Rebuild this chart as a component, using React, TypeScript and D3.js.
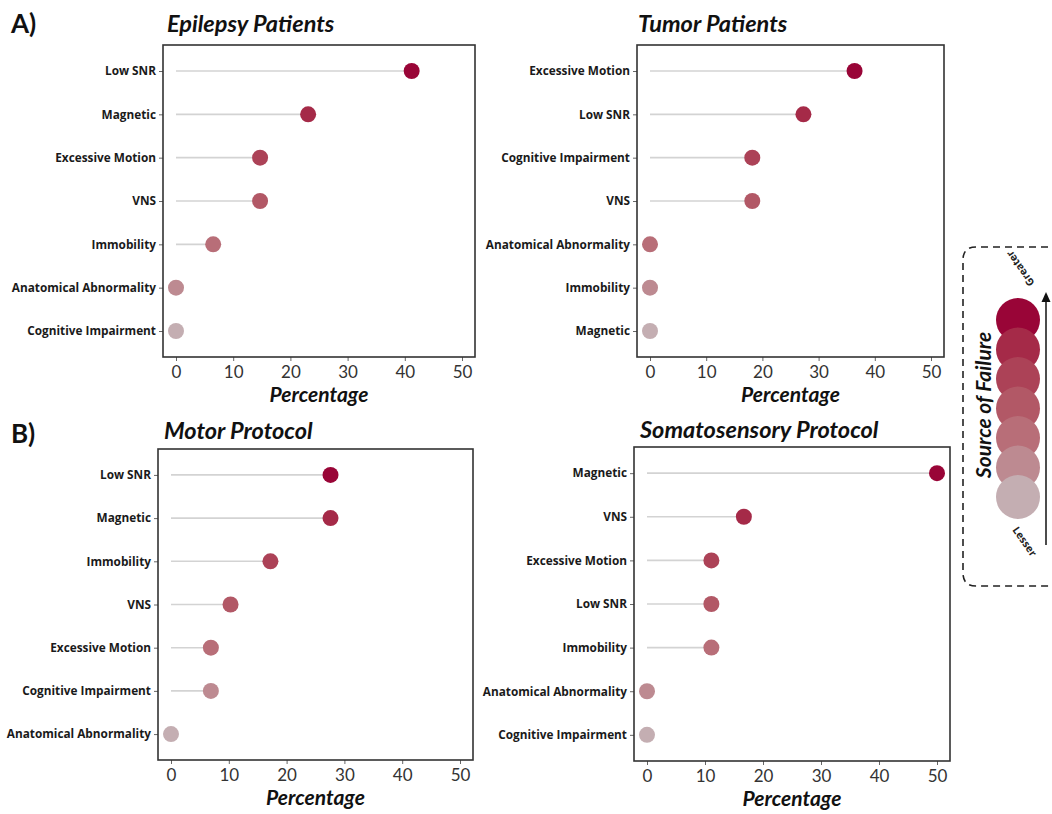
import React, { useEffect, useRef } from "react"
import * as d3 from "d3"

// categories per panel, top to bottom
const epilepsyCats = ["Low SNR", "Magnetic", "Excessive Motion", "VNS", "Immobility", "Anatomical Abnormality", "Cognitive Impairment"]
const epilepsyVals = [41.2, 23.1, 14.7, 14.7, 6.5, 0, 0]

const tumorCats = ["Excessive Motion", "Low SNR", "Cognitive Impairment", "VNS", "Anatomical Abnormality", "Immobility", "Magnetic"]
const tumorVals = [36.4, 27.3, 18.2, 18.2, 0, 0, 0]

const motorCats = ["Low SNR", "Magnetic", "Immobility", "VNS", "Excessive Motion", "Cognitive Impairment", "Anatomical Abnormality"]
const motorVals = [27.6, 27.6, 17.2, 10.3, 6.9, 6.9, 0]

const somatoCats = ["Magnetic", "VNS", "Excessive Motion", "Low SNR", "Immobility", "Anatomical Abnormality", "Cognitive Impairment"]
const somatoVals = [50, 16.7, 11.1, 11.1, 11.1, 0, 0]

const xTicks = [0, 10, 20, 30, 40, 50]

// greater -> lesser
const shades = ["#990537", "#a52a48", "#ac4257", "#b25866", "#b86e78", "#bd8a91", "#c4aeb2"]

const FONT = "Lato, 'Open Sans', sans-serif"
const LABEL_FONT = "'Open Sans', Lato, sans-serif"

function App() {
	const ref = useRef(null)

	useEffect(() => {
		const svg = d3.select(ref.current)
		svg.selectAll("*").remove()

		const panels = [
			{ title: "Epilepsy Patients", cats: epilepsyCats, vals: epilepsyVals, x0: 163, x1: 475, y0: 45, y1: 357, tx: 167, ty: 32 },
			{ title: "Tumor Patients", cats: tumorCats, vals: tumorVals, x0: 637, x1: 944, y0: 45, y1: 357, tx: 638, ty: 32 },
			{ title: "Motor Protocol", cats: motorCats, vals: motorVals, x0: 158, x1: 473, y0: 449, y1: 760, tx: 164, ty: 439 },
			{ title: "Somatosensory Protocol", cats: somatoCats, vals: somatoVals, x0: 634, x1: 950, y0: 447, y1: 761, tx: 640, ty: 438 },
		]

		panels.forEach(p => {
			const g = svg.append("g")
			const x = d3.scaleLinear().domain([0, 50]).range([p.x0 + 13, p.x1 - 13])
			const y = d3.scalePoint().domain(p.cats).range([p.y0, p.y1]).padding(0.6)

			g.append("text")
				.attr("x", p.tx)
				.attr("y", p.ty)
				.attr("font-family", FONT)
				.attr("font-size", 23.5)
				.attr("font-weight", "bold")
				.attr("font-style", "italic")
				.attr("fill", "#111")
				.text(p.title)

			// x axis
			const xAxis = g.append("g")
				.attr("transform", `translate(0,${p.y1})`)
				.call(d3.axisBottom(x).tickValues(xTicks).tickSize(4).tickPadding(5))
			xAxis.select(".domain").remove()
			xAxis.selectAll("line").attr("stroke", "#666")
			xAxis.selectAll("text").attr("font-family", FONT).attr("font-size", 17).attr("fill", "#333")

			// y axis
			const yAxis = g.append("g")
				.attr("transform", `translate(${p.x0},0)`)
				.call(d3.axisLeft(y).tickSize(4).tickPadding(3))
			yAxis.select(".domain").remove()
			yAxis.selectAll("line").attr("stroke", "#666")
			yAxis.selectAll("text")
				.attr("font-family", LABEL_FONT)
				.attr("font-size", 11.8)
				.attr("font-weight", "bold")
				.attr("fill", "#1a1a1a")

			g.append("rect")
				.attr("x", p.x0)
				.attr("y", p.y0)
				.attr("width", p.x1 - p.x0)
				.attr("height", p.y1 - p.y0)
				.attr("fill", "none")
				.attr("stroke", "#333")
				.attr("stroke-width", 1.6)

			g.append("text")
				.attr("x", (p.x0 + p.x1) / 2)
				.attr("y", p.y1 + 45)
				.attr("text-anchor", "middle")
				.attr("font-family", FONT)
				.attr("font-size", 21)
				.attr("font-weight", "bold")
				.attr("font-style", "italic")
				.attr("fill", "#111")
				.text("Percentage")

			g.selectAll("line.stem")
				.data(p.cats)
				.enter()
				.append("line")
				.attr("class", "stem")
				.attr("x1", x(0))
				.attr("x2", (d, i) => x(p.vals[i]))
				.attr("y1", d => y(d))
				.attr("y2", d => y(d))
				.attr("stroke", "#d3d3d3")
				.attr("stroke-width", 1.6)

			g.selectAll("circle")
				.data(p.cats)
				.enter()
				.append("circle")
				.attr("cx", (d, i) => x(p.vals[i]))
				.attr("cy", d => y(d))
				.attr("r", 8)
				.attr("fill", (d, i) => shades[i])
		})

		// panel letters
		svg.append("text").attr("x", 11).attr("y", 33).attr("font-family", FONT).attr("font-size", 26).attr("font-weight", "bold").attr("fill", "#111").text("A)")
		svg.append("text").attr("x", 11).attr("y", 443).attr("font-family", FONT).attr("font-size", 26).attr("font-weight", "bold").attr("fill", "#111").text("B)")

		// legend
		const lg = svg.append("g")
		lg.append("path")
			.attr("d", "M1060,247 L976,247 Q963,247 963,260 L963,573 Q963,586 976,586 L1060,586")
			.attr("fill", "none")
			.attr("stroke", "#222")
			.attr("stroke-width", 1.6)
			.attr("stroke-dasharray", "7,5")

		const ly = d3.scalePoint().domain(d3.range(shades.length)).range([320, 497])
		lg.selectAll("circle")
			.data(shades)
			.enter()
			.append("circle")
			.attr("cx", 1018)
			.attr("cy", (d, i) => ly(i))
			.attr("r", 22)
			.attr("fill", d => d)

		lg.append("line").attr("x1", 1046).attr("x2", 1046).attr("y1", 545).attr("y2", 300).attr("stroke", "#111").attr("stroke-width", 1.5)
		lg.append("path").attr("d", "M1046,292 L1041.5,302 L1050.5,302 Z").attr("fill", "#111")

		lg.append("text")
			.attr("transform", "translate(991,405) rotate(-90)")
			.attr("text-anchor", "middle")
			.attr("font-family", FONT)
			.attr("font-size", 21)
			.attr("font-weight", "bold")
			.attr("font-style", "italic")
			.attr("fill", "#111")
			.text("Source of Failure")

		lg.append("text")
			.attr("transform", "translate(1021,268) rotate(-125)")
			.attr("text-anchor", "middle")
			.attr("dominant-baseline", "middle")
			.attr("font-family", LABEL_FONT)
			.attr("font-size", 10.5)
			.attr("font-weight", "bold")
			.attr("fill", "#222")
			.text("Greater")

		lg.append("text")
			.attr("transform", "translate(1024,542) rotate(55)")
			.attr("text-anchor", "middle")
			.attr("dominant-baseline", "middle")
			.attr("font-family", LABEL_FONT)
			.attr("font-size", 10.5)
			.attr("font-weight", "bold")
			.attr("fill", "#222")
			.text("Lesser")
	}, [])

	return (
		<div style={{ position: "absolute", left: 0, top: 0 }}>
			<svg ref={ref} width={1052} height={814} style={{ display: "block", background: "#fff" }} />
		</div>
	)
}

export default App
